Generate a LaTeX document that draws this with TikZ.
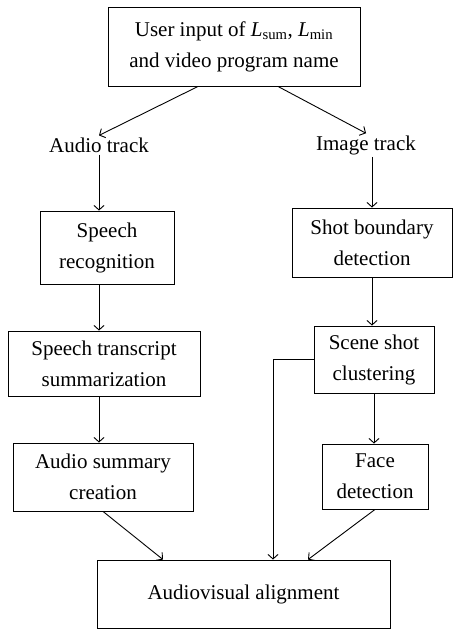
\documentclass[tikz,border=0pt]{standalone}
\usepackage{fontspec}
\setmainfont{Liberation Serif}
\usetikzlibrary{calc,arrows.meta}

\begin{document}
\begin{tikzpicture}[x=1pt, y=-1pt,
  block/.style={draw, line width=0.9pt, align=center, inner sep=0pt, font=\fontsize{21}{31}\selectfont},
  lbl/.style={align=center, inner sep=2pt, font=\fontsize{21}{31}\selectfont},
  arrow/.style={-{Straight Barb[length=4.5pt,width=10pt]}, line width=0.9pt}
]
\useasboundingbox (0,0) rectangle (453,630);

\node[block, minimum width=252pt, minimum height=79pt] (user) at (234,46.5) {User input of \textit{L}\textsubscript{sum}, \textit{L}\textsubscript{min}\\and video program name};
\node[lbl] (audio) at (99,145) {Audio track};
\node[lbl] (image) at (366,145) {Image track};

\node[block, minimum width=134pt, minimum height=73pt] (recog) at (107,247.5) {Speech\\recognition};
\node[block, minimum width=192pt, minimum height=65pt] (trans) at (104,363.5) {Speech transcript\\summarization};
\node[block, minimum width=180pt, minimum height=68pt] (summ) at (103,477) {Audio summary\\creation};

\node[block, minimum width=160pt, minimum height=69pt] (shot) at (372,242.5) {Shot boundary\\detection};
\node[block, minimum width=120pt, minimum height=67pt] (scene) at (374,359.5) {Scene shot\\clustering};
\node[block, minimum width=106pt, minimum height=65pt] (face) at (375,476.5) {Face\\detection};

\node[block, minimum width=293pt, minimum height=68pt] (align) at (243.5,594) {Audiovisual alignment};

% user input splits into the two tracks
\draw[arrow] ($(user.south)+(-36,0)$) -- (audio.north);
\draw[arrow] ($(user.south)+(44,0)$) -- (image.north);

% audio side
\draw[arrow] (audio.south) -- (audio.south |- recog.north);
\draw[arrow] (audio.south |- recog.south) -- (audio.south |- trans.north);
\draw[arrow] (audio.south |- trans.south) -- (audio.south |- summ.north);
\draw[arrow] (summ.south) -- ($(align.north)+(-80.5,0)$);

% image side
\draw[arrow] (shot.north |- image.south) -- (shot.north);
\draw[arrow] (shot.south) -- (shot.south |- scene.north);
\draw[arrow] (scene.south) -- (scene.south |- face.north);
\draw[arrow] (scene.west) -| ($(align.north)+(29.5,0)$);
\draw[arrow] (face.south) -- ($(align.north)+(64.5,0)$);
\end{tikzpicture}
\end{document}
